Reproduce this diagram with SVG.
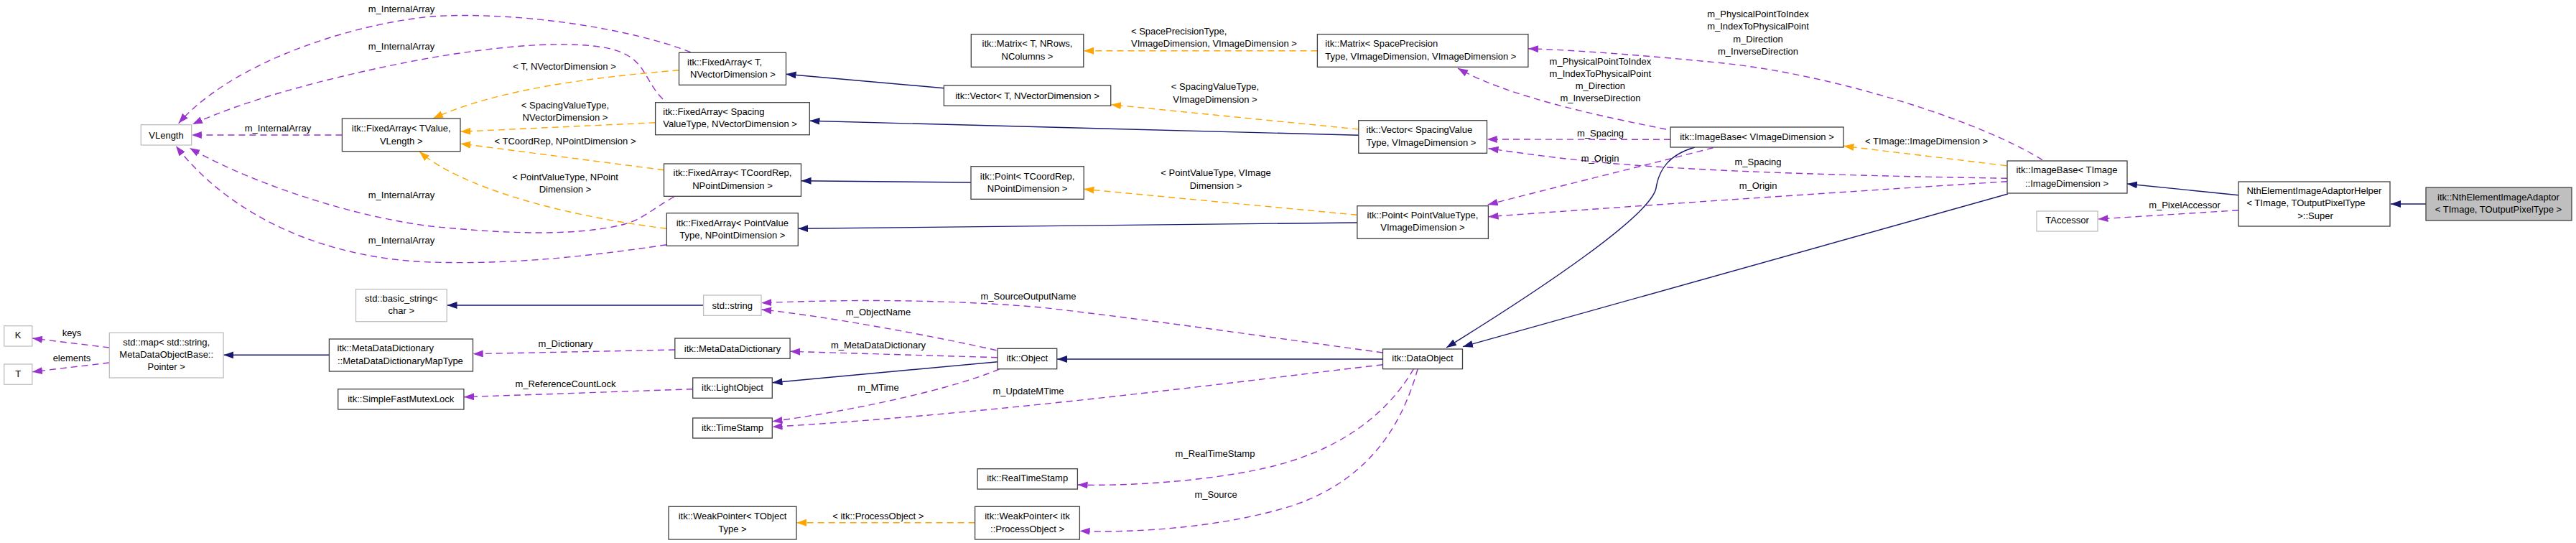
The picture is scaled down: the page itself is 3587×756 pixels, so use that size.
<svg xmlns="http://www.w3.org/2000/svg" width="3587" height="756" viewBox="0 0 3587 756">
<style>
text{font-family:"Liberation Sans",Arial,sans-serif;font-size:13px;fill:#000}
.m{text-anchor:middle}
.s{text-anchor:start}
.n rect{fill:#fff;stroke:#404040;stroke-width:1.3}
.u rect{fill:#fff;stroke:#bfbfbf;stroke-width:1.3}
.g rect{fill:#bfbfbf;stroke:#404040;stroke-width:1.3}
.inh{fill:none;stroke:#191970;stroke-width:1.4;marker-end:url(#aInh)}
.use{fill:none;stroke:#9a32cd;stroke-width:1.4;stroke-dasharray:9,6;marker-end:url(#aUse)}
.tpl{fill:none;stroke:#ffa500;stroke-width:1.4;stroke-dasharray:9,6;marker-end:url(#aTpl)}
</style>
<defs>
<marker id="aInh" markerUnits="userSpaceOnUse" markerWidth="15" markerHeight="11" refX="14" refY="5" orient="auto"><path d="M0,0 L14,5 L0,10 z" fill="#191970"/></marker>
<marker id="aUse" markerUnits="userSpaceOnUse" markerWidth="15" markerHeight="11" refX="14" refY="5" orient="auto"><path d="M0,0 L14,5 L0,10 z" fill="#9a32cd"/></marker>
<marker id="aTpl" markerUnits="userSpaceOnUse" markerWidth="15" markerHeight="11" refX="14" refY="5" orient="auto"><path d="M0,0 L14,5 L0,10 z" fill="#ffa500"/></marker>
</defs>
<rect width="3587" height="756" fill="#fff"/>
<g id="connectors">
<path class="inh" d="M3378,284 L3329,284"/>
<path class="inh" d="M3117,271.7 L2962,256"/>
<path class="inh" d="M2796,270 L2037,482.7"/>
<path class="inh" d="M2360,205 C2325,215 2310,235 2306,262 C2298,300 2150,400 2014,484"/>
<path class="inh" d="M1925.5,500 L1472,500"/>
<path class="inh" d="M1389.4,503.7 L1075.5,532.7"/>
<path class="inh" d="M979.6,425 L622.5,425"/>
<path class="inh" d="M458.4,494.3 L311.3,494.3"/>
<path class="inh" d="M1314.4,122.7 L1094.6,103.3"/>
<path class="inh" d="M1891.8,188.3 L1127.5,168.3"/>
<path class="inh" d="M1352,254 L1115.6,251.7"/>
<path class="inh" d="M1889.9,310 L1111.4,318.3"/>

<path class="tpl" d="M1834.4,70.7 L1509,70.7"/>
<path class="tpl" d="M1891.8,180 L1547,145.7"/>
<path class="tpl" d="M1889.9,299.3 L1509.4,263.3"/>
<path class="tpl" d="M945.5,97.7 C820,108 690,125 603,165"/>
<path class="tpl" d="M912.6,170.7 L641.2,183.3"/>
<path class="tpl" d="M924.5,236.7 L641.2,200"/>
<path class="tpl" d="M928.3,318.3 C780,300 640,260 584,211"/>
<path class="tpl" d="M2794.1,230.7 L2567.4,203.3"/>
<path class="tpl" d="M1357.6,727.7 L1109.2,727.7"/>

<path class="use" d="M961.6,72.7 C880,40 720,15 600,23 C480,35 320,90 248.7,171.7"/>
<path class="use" d="M923,138 C895,110 900,80 850,68 C780,52 650,70 560,88 C450,110 340,140 268,173"/>
<path class="use" d="M476.4,188 L266.9,188"/>
<path class="use" d="M938.6,274 C910,290 895,305 870,312 C800,330 700,325 600,315 C480,300 340,250 264,206"/>
<path class="use" d="M928.3,340.7 C800,360 700,368 600,365 C450,360 320,300 245,203.3"/>
<path class="use" d="M2320,180 C2230,162 2100,135 2030,95"/>
<path class="use" d="M2843.9,222.7 C2760,170 2560,105 2400,88 C2300,78 2200,70 2128.1,67.7"/>
<path class="use" d="M2326,194.3 L2070.7,194"/>
<path class="use" d="M2385.5,205.7 C2300,228 2160,262 2071.7,285"/>
<path class="use" d="M2795,248.3 C2600,245 2400,240 2250,228 C2170,221 2110,212 2072.6,206.7"/>
<path class="use" d="M2795,252.7 C2600,265 2300,285 2072.6,301.7"/>
<path class="use" d="M3117.2,292.7 L2921.4,305"/>
<path class="use" d="M152.3,484 L45,471"/>
<path class="use" d="M152.3,505 L45,517.7"/>
<path class="use" d="M939.8,487 L658.7,492.7"/>
<path class="use" d="M964.7,541.7 L646.1,552.7"/>
<path class="use" d="M1925.5,491 C1800,474 1600,445 1450,428 C1300,415 1150,418 1060.2,421.7"/>
<path class="use" d="M1387.5,487.7 C1300,468 1150,440 1060.2,431"/>
<path class="use" d="M1389,497.7 L1100.3,489.3"/>
<path class="use" d="M1391.3,514 C1330,540 1200,570 1075.5,586.7"/>
<path class="use" d="M1925.5,507.7 C1750,528 1400,575 1075.5,594.3"/>
<path class="use" d="M1968.4,513.7 C1930,580 1860,630 1760,652 C1680,670 1570,677 1500.6,675"/>
<path class="use" d="M1974.1,513.7 C1950,600 1900,670 1800,704 C1700,735 1580,742 1503.6,739.3"/>
</g>
<g id="edge-labels">
<text class="m" x="559" y="17.2">m_InternalArray</text>
<text class="m" x="559" y="68.5">m_InternalArray</text>
<text class="m" x="387" y="183.2">m_InternalArray</text>
<text class="m" x="559" y="276.2">m_InternalArray</text>
<text class="m" x="559" y="338.8">m_InternalArray</text>
<text class="m" x="786" y="97.2">&lt; T, NVectorDimension &gt;</text>
<text class="m" x="787" y="151.2">&lt; SpacingValueType,</text>
<text class="m" x="787" y="167.8">NVectorDimension &gt;</text>
<text class="m" x="787" y="201.2">&lt; TCoordRep, NPointDimension &gt;</text>
<text class="m" x="787" y="251.2">&lt; PointValueType, NPoint</text>
<text class="m" x="787" y="267.8">Dimension &gt;</text>
<text class="s" x="1575" y="47.8">&lt; SpacePrecisionType,</text>
<text class="s" x="1575" y="65.2">VImageDimension, VImageDimension &gt;</text>
<text class="m" x="1692" y="125.2">&lt; SpacingValueType,</text>
<text class="m" x="1692" y="142.8">VImageDimension &gt;</text>
<text class="m" x="1693" y="245.2">&lt; PointValueType, VImage</text>
<text class="m" x="1693" y="263.2">Dimension &gt;</text>
<text class="m" x="2228.4" y="89.5">m_PhysicalPointToIndex</text>
<text class="m" x="2228.4" y="107.2">m_IndexToPhysicalPoint</text>
<text class="m" x="2228.4" y="123.8">m_Direction</text>
<text class="m" x="2228.4" y="141.2">m_InverseDirection</text>
<text class="m" x="2448" y="23.8">m_PhysicalPointToIndex</text>
<text class="m" x="2448" y="41.2">m_IndexToPhysicalPoint</text>
<text class="m" x="2448" y="58.8">m_Direction</text>
<text class="m" x="2448" y="76.2">m_InverseDirection</text>
<text class="m" x="2228.6" y="189.5">m_Spacing</text>
<text class="m" x="2228" y="224.5">m_Origin</text>
<text class="m" x="2448" y="229.5">m_Spacing</text>
<text class="m" x="2448" y="263.2">m_Origin</text>
<text class="m" x="2682.6" y="201.2">&lt; TImage::ImageDimension &gt;</text>
<text class="m" x="3042" y="289.5">m_PixelAccessor</text>
<text class="m" x="100" y="467.8">keys</text>
<text class="m" x="100" y="503.2">elements</text>
<text class="m" x="787.5" y="483.2">m_Dictionary</text>
<text class="m" x="787.5" y="539.2">m_ReferenceCountLock</text>
<text class="m" x="1432" y="417.2">m_SourceOutputName</text>
<text class="m" x="1223" y="438.8">m_ObjectName</text>
<text class="m" x="1223" y="484.5">m_MetaDataDictionary</text>
<text class="m" x="1223" y="543.8">m_MTime</text>
<text class="m" x="1432" y="548.8">m_UpdateMTime</text>
<text class="m" x="1692" y="635.5">m_RealTimeStamp</text>
<text class="m" x="1693" y="692.8">m_Source</text>
<text class="m" x="1222.8" y="723.2">&lt; itk::ProcessObject &gt;</text>
</g>
<g id="n-nthadaptor" class="g"><rect x="3378" y="261" width="203" height="46"/><text class="m" x="3479" y="279">itk::NthElementImageAdaptor</text><text class="m" x="3479" y="296">&lt; TImage, TOutputPixelType &gt;</text></g>
<g id="n-helper" class="n"><rect x="3117" y="253" width="211" height="62"/><text class="m" x="3222.4" y="270">NthElementImageAdaptorHelper</text><text class="s" x="3128.4" y="287">&lt; TImage, TOutputPixelType</text><text class="m" x="3224" y="305">&gt;::Super</text></g>
<g id="n-imagebase-timage" class="n"><rect x="2795" y="224" width="167" height="45"/><text class="m" x="2878" y="241">itk::ImageBase&lt; TImage</text><text class="m" x="2878" y="259.5">::ImageDimension &gt;</text></g>
<g id="n-taccessor" class="u"><rect x="2836" y="294" width="85" height="28"/><text class="m" x="2878.5" y="311">TAccessor</text></g>
<g id="n-imagebase-vdim" class="n"><rect x="2326" y="177" width="241" height="28"/><text class="m" x="2446.5" y="194.5">itk::ImageBase&lt; VImageDimension &gt;</text></g>
<g id="n-matrix-sp" class="n"><rect x="1834.4" y="47.7" width="293.5" height="45.6"/><text class="s" x="1845.2" y="65">itk::Matrix&lt; SpacePrecision</text><text class="s" x="1845.2" y="83">Type, VImageDimension, VImageDimension &gt;</text></g>
<g id="n-vector-sv" class="n"><rect x="1891.8" y="167.7" width="178.7" height="45.6"/><text class="s" x="1902.6" y="185">itk::Vector&lt; SpacingValue</text><text class="s" x="1902.6" y="203">Type, VImageDimension &gt;</text></g>
<g id="n-point-pv" class="n"><rect x="1889.9" y="286.7" width="182.5" height="45.6"/><text class="m" x="1981" y="304">itk::Point&lt; PointValueType,</text><text class="m" x="1981" y="321">VImageDimension &gt;</text></g>
<g id="n-matrix-t" class="n"><rect x="1352.3" y="47.7" width="156.5" height="45.6"/><text class="m" x="1430.5" y="65">itk::Matrix&lt; T, NRows,</text><text class="m" x="1430.5" y="83">NColumns &gt;</text></g>
<g id="n-vector-t" class="n"><rect x="1314.4" y="119" width="232.3" height="28.3"/><text class="m" x="1430.5" y="137.5">itk::Vector&lt; T, NVectorDimension &gt;</text></g>
<g id="n-point-tc" class="n"><rect x="1352" y="231.7" width="157.2" height="45.6"/><text class="m" x="1430.6" y="249.5">itk::Point&lt; TCoordRep,</text><text class="m" x="1430.6" y="267">NPointDimension &gt;</text></g>
<g id="n-fa-t" class="n"><rect x="945.5" y="73.3" width="149" height="45"/><text class="s" x="957" y="91">itk::FixedArray&lt; T,</text><text class="s" x="961" y="108">NVectorDimension &gt;</text></g>
<g id="n-fa-sv" class="n"><rect x="912.6" y="142.7" width="214.7" height="45"/><text class="s" x="923.3" y="160">itk::FixedArray&lt; Spacing</text><text class="s" x="923.3" y="177">ValueType, NVectorDimension &gt;</text></g>
<g id="n-fa-tc" class="n"><rect x="924.5" y="228" width="191" height="45.3"/><text class="m" x="1020" y="244.5">itk::FixedArray&lt; TCoordRep,</text><text class="m" x="1020" y="263">NPointDimension &gt;</text></g>
<g id="n-fa-pv" class="n"><rect x="928.3" y="296.7" width="183" height="45.6"/><text class="m" x="1019.8" y="315">itk::FixedArray&lt; PointValue</text><text class="m" x="1019.8" y="332">Type, NPointDimension &gt;</text></g>
<g id="n-fa-tvalue" class="n"><rect x="476.4" y="165" width="164.6" height="45.7"/><text class="m" x="558.7" y="183">itk::FixedArray&lt; TValue,</text><text class="m" x="558.7" y="200.5">VLength &gt;</text></g>
<g id="n-vlength" class="u"><rect x="196.3" y="173.7" width="70.4" height="28.3"/><text class="m" x="231.5" y="192.5">VLength</text></g>
<g id="n-dataobject" class="n"><rect x="1925.5" y="486" width="111" height="27.7"/><text class="m" x="1981" y="503">itk::DataObject</text></g>
<g id="n-object" class="n"><rect x="1389" y="485.3" width="82.7" height="28.4"/><text class="m" x="1430.3" y="503">itk::Object</text></g>
<g id="n-realtimestamp" class="n"><rect x="1361.1" y="652.7" width="139.3" height="28.3"/><text class="m" x="1430.7" y="670">itk::RealTimeStamp</text></g>
<g id="n-weak-po" class="n"><rect x="1357.6" y="705.3" width="145.8" height="45.7"/><text class="m" x="1430.5" y="723">itk::WeakPointer&lt; itk</text><text class="m" x="1430.5" y="740.5">::ProcessObject &gt;</text></g>
<g id="n-stdstring" class="u"><rect x="979.6" y="411" width="80.4" height="28.3"/><text class="m" x="1019.8" y="429.5">std::string</text></g>
<g id="n-mdd" class="n"><rect x="939.8" y="471" width="160.3" height="28.3"/><text class="m" x="1020" y="489.5">itk::MetaDataDictionary</text></g>
<g id="n-lightobject" class="n"><rect x="964.7" y="526" width="110.6" height="28.3"/><text class="m" x="1020" y="544">itk::LightObject</text></g>
<g id="n-timestamp" class="n"><rect x="964.7" y="582" width="110.6" height="28"/><text class="m" x="1020" y="599.5">itk::TimeStamp</text></g>
<g id="n-weak-t" class="n"><rect x="931" y="705.3" width="178" height="45.7"/><text class="m" x="1020" y="723">itk::WeakPointer&lt; TObject</text><text class="m" x="1020" y="740.5">Type &gt;</text></g>
<g id="n-basicstring" class="u"><rect x="495.5" y="402.7" width="126.7" height="45"/><text class="m" x="558.8" y="420">std::basic_string&lt;</text><text class="m" x="558.8" y="437">char &gt;</text></g>
<g id="n-maptype" class="n"><rect x="458.4" y="472" width="200.1" height="45"/><text class="s" x="469.5" y="489">itk::MetaDataDictionary</text><text class="s" x="470" y="507">::MetaDataDictionaryMapType</text></g>
<g id="n-mutex" class="n"><rect x="470.7" y="541.7" width="175.2" height="28.3"/><text class="m" x="558.3" y="559.5">itk::SimpleFastMutexLock</text></g>
<g id="n-stdmap" class="u"><rect x="152.3" y="463.3" width="158.8" height="62.7"/><text class="m" x="231.7" y="480.5">std::map&lt; std::string,</text><text class="m" x="231.7" y="498">MetaDataObjectBase::</text><text class="m" x="231.7" y="515">Pointer &gt;</text></g>
<g id="n-k" class="u"><rect x="5.7" y="453.7" width="39.1" height="28.3"/><text class="m" x="25.2" y="470.5">K</text></g>
<g id="n-t" class="u"><rect x="5.7" y="507" width="39.1" height="28.3"/><text class="m" x="25.2" y="524.5">T</text></g>
</svg>
